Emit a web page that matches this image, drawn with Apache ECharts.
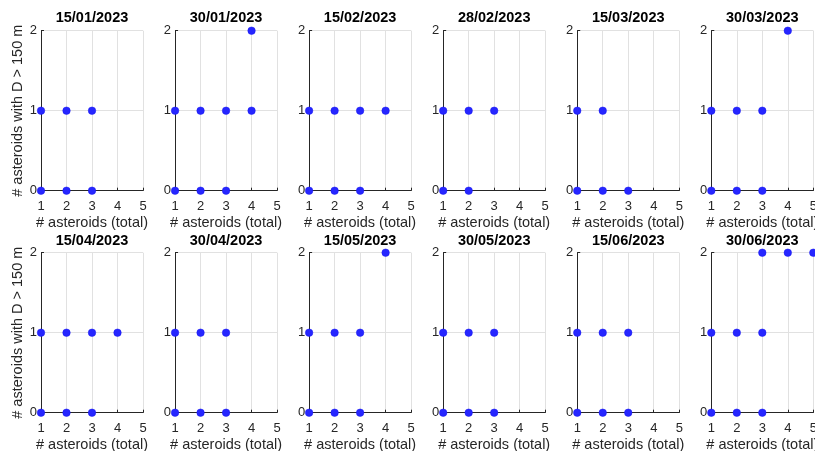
<!DOCTYPE html>
<html>
<head>
<meta charset="utf-8">
<script src="https://cdn.jsdelivr.net/npm/echarts@6/dist/echarts.min.js"></script>
<style>
  html, body { margin: 0; padding: 0; background: #fff; }
  #chart { width: 815px; height: 451px; }
</style>
</head>
<body>
<div id="chart"></div>
<script>
// Observation dates, one panel each
const dates = [
  '15/01/2023', '30/01/2023', '15/02/2023', '28/02/2023', '15/03/2023', '30/03/2023',
  '15/04/2023', '30/04/2023', '15/05/2023', '30/05/2023', '15/06/2023', '30/06/2023'
];

// Total number of asteroids per observed combination (x values)
const totalAsteroids = [
  [1, 2, 3, 1, 2, 3],
  [1, 2, 3, 1, 2, 3, 4, 4],
  [1, 2, 3, 1, 2, 3, 4],
  [1, 2, 1, 2, 3],
  [1, 2, 3, 1, 2],
  [1, 2, 3, 1, 2, 3, 4],
  [1, 2, 3, 1, 2, 3, 4],
  [1, 2, 3, 1, 2, 3],
  [1, 2, 3, 1, 2, 3, 4],
  [1, 2, 3, 1, 2, 3],
  [1, 2, 3, 1, 2, 3],
  [1, 2, 3, 1, 2, 3, 3, 4, 5]
];

// Number of those asteroids with diameter above 150 m (y values)
const largeAsteroids = [
  [0, 0, 0, 1, 1, 1],
  [0, 0, 0, 1, 1, 1, 1, 2],
  [0, 0, 0, 1, 1, 1, 1],
  [0, 0, 1, 1, 1],
  [0, 0, 0, 1, 1],
  [0, 0, 0, 1, 1, 1, 2],
  [0, 0, 0, 1, 1, 1, 1],
  [0, 0, 0, 1, 1, 1],
  [0, 0, 0, 1, 1, 1, 2],
  [0, 0, 0, 1, 1, 1],
  [0, 0, 0, 1, 1, 1],
  [0, 0, 0, 1, 1, 1, 2, 2, 2]
];

const xTicks = [1, 2, 3, 4, 5];
const yTicks = [0, 1, 2];

const xLabel = '# asteroids (total)';
const yLabel = '# asteroids with D > 150 m';

const FONT = '"Liberation Sans", Arial, Helvetica, sans-serif';
const AXIS_COLOR = '#262626';
const GRID_COLOR = '#e1e1e1';
const MARKER_COLOR = '#2626ff';
const MARKER_EDGE = '#1414f0';

const COLS = 6;
const PANEL_LEFT0 = 41;
const PANEL_STEP = 134.06;
const PANEL_W = 102;
const ROW_TOP = [30.7, 252.7];
const PANEL_H = 160;

const grids = [], xAxes = [], yAxes = [], series = [], titles = [];

dates.forEach((d, i) => {
  const col = i % COLS;
  const row = Math.floor(i / COLS);
  const left = PANEL_LEFT0 + col * PANEL_STEP;
  const top = ROW_TOP[row];

  grids.push({
    left: left, top: top, width: PANEL_W, height: PANEL_H,
    containLabel: false,
    outerBoundsMode: 'none'
  });

  xAxes.push({
    gridIndex: i,
    type: 'value',
    min: xTicks[0],
    max: xTicks[xTicks.length - 1],
    interval: 1,
    name: xLabel,
    nameLocation: 'middle',
    nameGap: 25,
    nameTextStyle: { fontFamily: FONT, fontSize: 14.5, color: AXIS_COLOR },
    axisLine: { show: true, onZero: false, lineStyle: { color: AXIS_COLOR, width: 1 } },
    axisTick: { show: true, inside: true, length: 3, lineStyle: { color: AXIS_COLOR } },
    axisLabel: { margin: 9, fontFamily: FONT, fontSize: 13, color: AXIS_COLOR, hideOverlap: false },
    splitLine: { show: true, lineStyle: { color: GRID_COLOR, width: 1 } }
  });

  yAxes.push({
    gridIndex: i,
    type: 'value',
    min: yTicks[0],
    max: yTicks[yTicks.length - 1],
    interval: 1,
    name: col === 0 ? yLabel : '',
    nameLocation: 'middle',
    nameRotate: 90,
    nameGap: 15,
    nameTextStyle: { fontFamily: FONT, fontSize: 14.5, color: AXIS_COLOR },
    axisLine: { show: true, onZero: false, lineStyle: { color: AXIS_COLOR, width: 1 } },
    axisTick: { show: true, inside: true, length: 3, lineStyle: { color: AXIS_COLOR } },
    axisLabel: { margin: 4, fontFamily: FONT, fontSize: 13, color: AXIS_COLOR },
    splitLine: { show: true, lineStyle: { color: GRID_COLOR, width: 1 } }
  });

  series.push({
    type: 'scatter',
    xAxisIndex: i,
    yAxisIndex: i,
    clip: false,
    symbol: 'circle',
    symbolSize: 7.5,
    itemStyle: { color: MARKER_COLOR, borderColor: MARKER_EDGE, borderWidth: 0.5, opacity: 1 },
    emphasis: { disabled: true },
    data: totalAsteroids[i].map((x, k) => [x, largeAsteroids[i][k]])
  });

  titles.push({
    text: d,
    left: left + PANEL_W / 2,
    top: row === 0 ? 18 : 240.5,
    textAlign: 'center',
    textVerticalAlign: 'middle',
    padding: 0,
    textStyle: { fontFamily: FONT, fontSize: 14.5, fontWeight: 'bold', color: '#000' }
  });
});

const chart = echarts.init(document.getElementById('chart'), null, { renderer: 'canvas' });
chart.setOption({
  animation: false,
  backgroundColor: '#fff',
  title: titles,
  grid: grids,
  xAxis: xAxes,
  yAxis: yAxes,
  series: series
});
</script>
</body>
</html>
